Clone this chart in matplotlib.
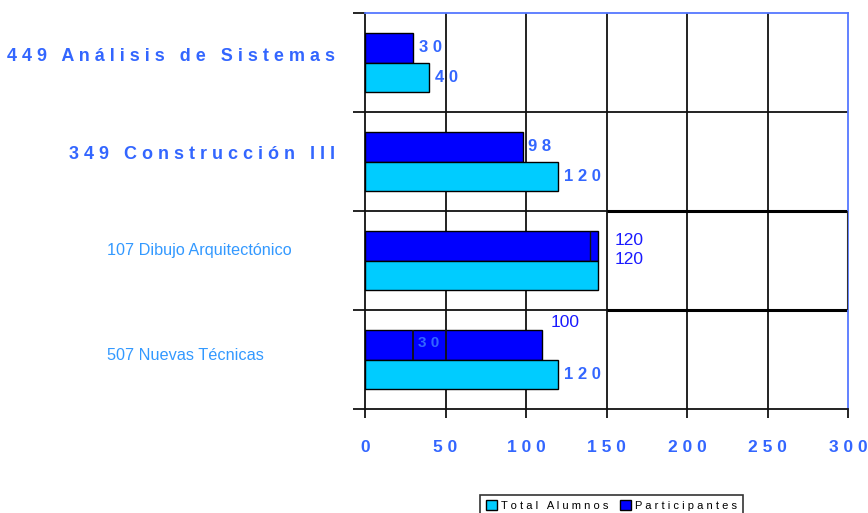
import matplotlib
matplotlib.use("Agg")
import matplotlib.pyplot as plt
from matplotlib.patches import Patch

# datos
cursos = ['449 Análisis de Sistemas', '349 Construcción III',
          '107 Dibujo Arquitectónico', '507 Nuevas Técnicas']
participantes = [30, 98, 145, 110]
total_alumnos = [40, 120, 145, 120]
etiq_part = ['30', '98', '120', '100']
etiq_total = ['40', '120', '120', '120']
xticks = [0, 50, 100, 150, 200, 250, 300]

AZUL = '#0000ff'
CIAN = '#00ccff'
TXT = '#3366ff'
TXT2 = '#3399ff'
NUM = '#1a1aff'


def espaciar(s):
    # imita el texto con letras separadas
    return '   '.join(' '.join(w) for w in s.split(' '))


plt.rcParams['font.family'] = ['Liberation Sans', 'DejaVu Sans']

fig = plt.figure(figsize=(8.68, 5.13), dpi=100)
ax = fig.add_axes([365 / 868, 1 - 409 / 513, 483 / 868, (409 - 13.3) / 513])

y = list(range(len(cursos)))
h = 0.3
yp = [v - h / 2 for v in y]
yt = [v + h / 2 for v in y]

ax.barh(yp, participantes, height=h, color=AZUL, edgecolor='black', linewidth=1, zorder=3)
ax.barh(yt, total_alumnos, height=h, color=CIAN, edgecolor='black', linewidth=1, zorder=3)

ax.set_xlim(0, 300)
ax.set_ylim(3.5, -0.5)

# rejilla
ax.set_xticks(xticks)
ax.set_xticklabels([espaciar(str(t)) for t in xticks], fontsize=12.5,
                   fontweight='bold', color=TXT)
ax.set_yticks([-0.5, 0.5, 1.5, 2.5, 3.5])
ax.set_yticklabels([])
ax.tick_params(axis='x', direction='out', length=6.5, width=1.2, pad=16)
ax.tick_params(axis='y', direction='out', length=8.5, width=1.2)
for t in xticks[1:-1]:
    ax.axvline(t, color='#111111', lw=1.3, zorder=1)
for b in [0.5, 1.5, 2.5]:
    ax.axhline(b, color='#111111', lw=1.3, zorder=1)
for s in ['left', 'bottom']:
    ax.spines[s].set_color('#111111')
    ax.spines[s].set_linewidth(1.3)
for s in ['top', 'right']:
    ax.spines[s].set_color('#5577ff')
    ax.spines[s].set_linewidth(1.3)

# recuadro sobre Dibujo
ax.hlines([1.5, 2.5], 150, 300, color='black', lw=2.2, zorder=2)
ax.vlines(300, 1.5, 2.5, color='#333333', lw=1.5, zorder=4)

# etiquetas de categoria
trans = ax.get_yaxis_transform()
ax.text(-0.062, -0.06, espaciar(cursos[0]), transform=trans, ha='right', va='center',
        fontsize=13, fontweight='bold', color=TXT)
ax.text(-0.062, 0.93, espaciar(cursos[1]), transform=trans, ha='right', va='center',
        fontsize=13, fontweight='bold', color=TXT)
ax.text(-0.534, 1.9, cursos[2], transform=trans, ha='left', va='center',
        fontsize=11.7, color=TXT2)
ax.text(-0.534, 2.96, cursos[3], transform=trans, ha='left', va='center',
        fontsize=11.7, color=TXT2)

# etiquetas de valores
for i in [0, 1]:
    ax.annotate(espaciar(etiq_part[i]), (participantes[i], yp[i]), xytext=(4, 0),
                textcoords='offset points', ha='left', va='center', fontsize=12,
                fontweight='bold', color=TXT)
for i in [0, 1, 3]:
    ax.annotate(espaciar(etiq_total[i]), (total_alumnos[i], yt[i]), xytext=(4, 0),
                textcoords='offset points', ha='left', va='center', fontsize=12,
                fontweight='bold', color=TXT)
ax.text(155, 1.80, etiq_part[2], ha='left', va='center', fontsize=12.5, color=NUM)
ax.text(155, 1.99, etiq_total[2], ha='left', va='center', fontsize=12.5, color=NUM)
ax.annotate(etiq_part[3], (participantes[3], yp[3] - 0.22), xytext=(6, 0),
            textcoords='offset points', ha='left', va='center', fontsize=12.5, color=NUM)

# restos pegados dentro de la barra de Nuevas Tecnicas
ax.vlines([30, 50], yp[3] - h / 2, yp[3] + h / 2, color='#111111', lw=1.3, zorder=4)
ax.text(33, yp[3] - 0.02, espaciar(etiq_part[0]), ha='left', va='center',
        fontsize=11, fontweight='bold', color=TXT, zorder=5)
ax.vlines(140, yp[2] - h / 2, yp[2] + h / 2, color='#111111', lw=1, zorder=4)

# leyenda
handles = [Patch(facecolor=CIAN, edgecolor='black', label=espaciar('Total Alumnos')),
           Patch(facecolor=AZUL, edgecolor='black', label=espaciar('Participantes'))]
leg = fig.legend(handles=handles, loc='upper center', bbox_to_anchor=(611.5 / 868, 1 - 489 / 513),
                 ncol=2, fontsize=8, frameon=True, fancybox=False, handlelength=1.0,
                 handleheight=1.0, handletextpad=0.4, columnspacing=1.0, borderpad=0.5,
                 labelcolor='black')
leg.get_frame().set_edgecolor('black')
leg.get_frame().set_linewidth(1.2)

fig.savefig('out.png', dpi=100)
